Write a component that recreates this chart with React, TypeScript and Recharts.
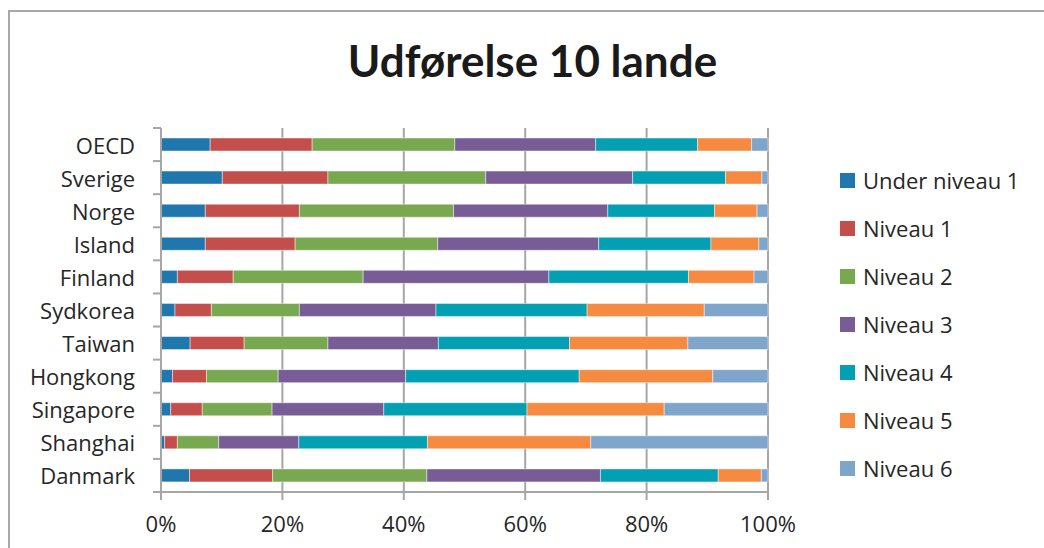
import { Bar, BarChart, CartesianGrid, XAxis, YAxis } from 'recharts'

// PISA-niveaufordeling pr. land (procent af elever)
const countries = [
  'OECD',
  'Sverige',
  'Norge',
  'Island',
  'Finland',
  'Sydkorea',
  'Taiwan',
  'Hongkong',
  'Singapore',
  'Shanghai',
  'Danmark',
]
const underNiveau1 = [8.1, 10.1, 7.3, 7.3, 2.7, 2.3, 4.8, 1.9, 1.6, 0.6, 4.7]
const niveau1 = [16.8, 17.4, 15.5, 14.8, 9.2, 6.0, 8.9, 5.6, 5.2, 2.1, 13.7]
const niveau2 = [23.5, 26.0, 25.4, 23.5, 21.4, 14.5, 13.8, 11.8, 11.5, 6.8, 25.4]
const niveau3 = [23.2, 24.2, 25.4, 26.5, 30.6, 22.5, 18.2, 21.0, 18.4, 13.2, 28.6]
const niveau4 = [16.8, 15.3, 17.6, 18.5, 23.0, 24.9, 21.6, 28.6, 23.6, 21.2, 19.4]
const niveau5 = [8.9, 6.0, 7.0, 7.9, 10.8, 19.3, 19.5, 22.0, 22.6, 26.9, 7.1]
const niveau6 = [2.7, 1.0, 1.8, 1.5, 2.3, 10.5, 13.2, 9.1, 17.1, 29.2, 1.1]

const seriesNames = [
  'Under niveau 1',
  'Niveau 1',
  'Niveau 2',
  'Niveau 3',
  'Niveau 4',
  'Niveau 5',
  'Niveau 6',
]
const seriesColors = ['#1f77ad', '#c44e4b', '#78a84f', '#775c96', '#03a0b3', '#f68a40', '#7fa5cb']
const xTicks = [0, 0.2, 0.4, 0.6, 0.8, 1]

const seriesValues = [underNiveau1, niveau1, niveau2, niveau3, niveau4, niveau5, niveau6]
const rows = countries.map((country, i) => {
  const row: Record<string, string | number> = { country }
  seriesNames.forEach((name, s) => {
    row[name] = seriesValues[s][i]
  })
  return row
})

const FONT = '"Open Sans", Lato, sans-serif'
const TITLE_FONT = 'Lato, "Open Sans", sans-serif'
const AXIS = '#a6a6a6'
const TOP = 128
const PLOT_H = 364

function CountryTick(props: any) {
  const { x, y, payload, index } = props
  const band = PLOT_H / countries.length
  return (
    <g>
      <line x1={x + 18} x2={x + 26} y1={y - band / 2} y2={y - band / 2} stroke={AXIS} strokeWidth={2} />
      <text
        x={x}
        y={y}
        textAnchor="end"
        dominantBaseline="central"
        fontSize={22}
        fontFamily={FONT}
        fill="#262626"
      >
        {payload.value}
      </text>
      {index === countries.length - 1 && (
        <line x1={x + 18} x2={x + 26} y1={y + band / 2} y2={y + band / 2} stroke={AXIS} strokeWidth={2} />
      )}
    </g>
  )
}

export default function App() {
  return (
    <div
      style={{
        position: 'absolute',
        left: 0,
        top: 0,
        width: 1044,
        height: 548,
        overflow: 'hidden',
        background: '#fff',
      }}
    >
      <div
        style={{
          position: 'absolute',
          left: 8,
          top: 10,
          width: 1200,
          height: 700,
          borderTop: '2px solid #a8a8a8',
          borderLeft: '2px solid #a8a8a8',
        }}
      />
      <div
        style={{
          position: 'absolute',
          left: 0,
          width: 1065,
          top: 32,
          textAlign: 'center',
          fontFamily: TITLE_FONT,
          fontWeight: 700,
          fontSize: 44,
          lineHeight: '56px',
          color: '#1a1a1a',
        }}
      >
        Udførelse 10 lande
      </div>
      <BarChart
        width={1044}
        height={548}
        data={rows}
        layout="vertical"
        stackOffset="expand"
        barSize={13}
        margin={{ top: TOP, right: 276, bottom: 16, left: 11 }}
        style={{ position: 'absolute', left: 0, top: 0 }}
      >
        <CartesianGrid horizontal={false} stroke={AXIS} strokeWidth={2} />
        <XAxis
          type="number"
          domain={[0, 1]}
          ticks={xTicks}
          tickFormatter={(v: number) => `${Math.round(v * 100)}%`}
          stroke={AXIS}
          strokeWidth={2}
          tickSize={8}
          tickMargin={16}
          height={40}
          tick={{ fontSize: 22, fontFamily: FONT, fill: '#262626' }}
        />
        <YAxis
          type="category"
          dataKey="country"
          width={150}
          stroke={AXIS}
          strokeWidth={2}
          tickLine={false}
          tickSize={8}
          tickMargin={18}
          interval={0}
          tick={<CountryTick />}
        />
        {seriesNames.map((name, s) => (
          <Bar
            key={name}
            dataKey={name}
            stackId="a"
            fill={seriesColors[s]}
            stroke="#ffffff"
            strokeOpacity={0.45}
            strokeWidth={1}
            isAnimationActive={false}
          />
        ))}
      </BarChart>
      <div
        style={{
          position: 'absolute',
          left: 840,
          top: 156,
          fontFamily: FONT,
          fontSize: 22,
          color: '#262626',
        }}
      >
        {seriesNames.map((name, s) => (
          <div key={name} style={{ height: 48, display: 'flex', alignItems: 'center' }}>
            <span style={{ width: 15, height: 15, background: seriesColors[s], marginRight: 8 }} />
            {name}
          </div>
        ))}
      </div>
    </div>
  )
}
